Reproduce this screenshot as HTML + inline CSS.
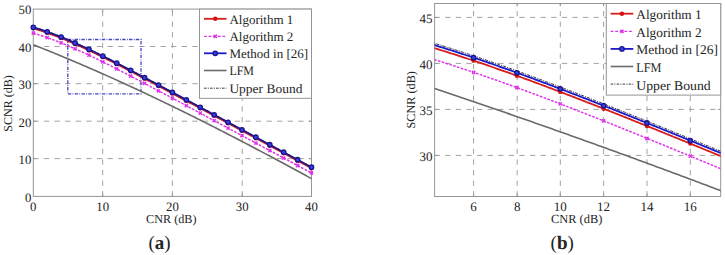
<!DOCTYPE html>
<html><head><meta charset="utf-8"><style>
html,body{margin:0;padding:0;background:#fff;}
body{width:725px;height:255px;overflow:hidden;}
svg{display:block;font-family:"Liberation Serif", serif;text-rendering:geometricPrecision;}
text{fill:#242424;}
</style></head><body>
<svg width="725" height="255" viewBox="0 0 725 255">
<rect width="725" height="255" fill="#fff"/>
<clipPath id="cl"><rect x="33.3" y="9.1" width="278.2" height="187.3"/></clipPath>
<line x1="102.70" y1="196.40" x2="102.70" y2="9.10" stroke="#a2a2a2" stroke-width="1" stroke-dasharray="5.3 5.3" />
<line x1="172.40" y1="196.40" x2="172.40" y2="9.10" stroke="#a2a2a2" stroke-width="1" stroke-dasharray="5.3 5.3" />
<line x1="242.20" y1="196.40" x2="242.20" y2="9.10" stroke="#a2a2a2" stroke-width="1" stroke-dasharray="5.3 5.3" />
<line x1="33.30" y1="46.50" x2="311.50" y2="46.50" stroke="#a2a2a2" stroke-width="1" stroke-dasharray="5.3 5.3" />
<line x1="33.30" y1="83.70" x2="311.50" y2="83.70" stroke="#a2a2a2" stroke-width="1" stroke-dasharray="5.3 5.3" />
<line x1="33.30" y1="121.20" x2="311.50" y2="121.20" stroke="#a2a2a2" stroke-width="1" stroke-dasharray="5.3 5.3" />
<line x1="33.30" y1="158.60" x2="311.50" y2="158.60" stroke="#a2a2a2" stroke-width="1" stroke-dasharray="5.3 5.3" />
<line x1="102.70" y1="196.40" x2="102.70" y2="193.60" stroke="#959595" stroke-width="1" />
<line x1="102.70" y1="9.10" x2="102.70" y2="11.90" stroke="#959595" stroke-width="1" />
<line x1="172.40" y1="196.40" x2="172.40" y2="193.60" stroke="#959595" stroke-width="1" />
<line x1="172.40" y1="9.10" x2="172.40" y2="11.90" stroke="#959595" stroke-width="1" />
<line x1="242.20" y1="196.40" x2="242.20" y2="193.60" stroke="#959595" stroke-width="1" />
<line x1="242.20" y1="9.10" x2="242.20" y2="11.90" stroke="#959595" stroke-width="1" />
<line x1="33.30" y1="46.50" x2="36.10" y2="46.50" stroke="#959595" stroke-width="1" />
<line x1="311.50" y1="46.50" x2="308.70" y2="46.50" stroke="#959595" stroke-width="1" />
<line x1="33.30" y1="83.70" x2="36.10" y2="83.70" stroke="#959595" stroke-width="1" />
<line x1="311.50" y1="83.70" x2="308.70" y2="83.70" stroke="#959595" stroke-width="1" />
<line x1="33.30" y1="121.20" x2="36.10" y2="121.20" stroke="#959595" stroke-width="1" />
<line x1="311.50" y1="121.20" x2="308.70" y2="121.20" stroke="#959595" stroke-width="1" />
<line x1="33.30" y1="158.60" x2="36.10" y2="158.60" stroke="#959595" stroke-width="1" />
<line x1="311.50" y1="158.60" x2="308.70" y2="158.60" stroke="#959595" stroke-width="1" />
<rect x="67.8" y="39.5" width="73.2" height="54.3" fill="none" stroke="#4646c0" stroke-width="1.3" stroke-dasharray="3.4 1.4 0.8 1.2"/>
<rect x="33.3" y="9.1" width="278.2" height="187.3" fill="none" stroke="#959595" stroke-width="1"/>
<polyline points="33.30,44.76 34.69,45.31 36.08,45.86 37.47,46.41 38.86,46.96 40.25,47.51 41.65,48.07 43.04,48.62 44.43,49.18 45.82,49.74 47.21,50.30 48.60,50.86 49.99,51.43 51.38,51.99 52.77,52.56 54.16,53.13 55.56,53.70 56.95,54.27 58.34,54.84 59.73,55.41 61.12,55.99 62.51,56.57 63.90,57.14 65.29,57.72 66.68,58.31 68.07,58.89 69.47,59.47 70.86,60.06 72.25,60.64 73.64,61.23 75.03,61.82 76.42,62.41 77.81,63.01 79.20,63.60 80.59,64.19 81.98,64.79 83.38,65.39 84.77,65.99 86.16,66.59 87.55,67.19 88.94,67.79 90.33,68.40 91.72,69.01 93.11,69.61 94.50,70.22 95.89,70.83 97.29,71.44 98.68,72.06 100.07,72.67 101.46,73.29 102.85,73.90 104.24,74.52 105.63,75.14 107.02,75.76 108.41,76.38 109.80,77.01 111.20,77.63 112.59,78.26 113.98,78.88 115.37,79.51 116.76,80.14 118.15,80.77 119.54,81.41 120.93,82.04 122.32,82.67 123.71,83.31 125.11,83.95 126.50,84.58 127.89,85.22 129.28,85.87 130.67,86.51 132.06,87.15 133.45,87.80 134.84,88.44 136.23,89.09 137.62,89.74 139.02,90.39 140.41,91.04 141.80,91.69 143.19,92.34 144.58,92.99 145.97,93.65 147.36,94.31 148.75,94.96 150.14,95.62 151.53,96.28 152.93,96.94 154.32,97.61 155.71,98.27 157.10,98.93 158.49,99.60 159.88,100.27 161.27,100.93 162.66,101.60 164.05,102.27 165.44,102.94 166.84,103.62 168.23,104.29 169.62,104.96 171.01,105.64 172.40,106.31 173.79,106.99 175.18,107.67 176.57,108.35 177.96,109.03 179.36,109.71 180.75,110.40 182.14,111.08 183.53,111.77 184.92,112.45 186.31,113.14 187.70,113.83 189.09,114.52 190.48,115.21 191.87,115.90 193.26,116.59 194.66,117.28 196.05,117.98 197.44,118.67 198.83,119.37 200.22,120.06 201.61,120.76 203.00,121.46 204.39,122.16 205.78,122.86 207.18,123.56 208.57,124.27 209.96,124.97 211.35,125.68 212.74,126.38 214.13,127.09 215.52,127.80 216.91,128.50 218.30,129.21 219.69,129.92 221.08,130.64 222.48,131.35 223.87,132.06 225.26,132.78 226.65,133.49 228.04,134.21 229.43,134.92 230.82,135.64 232.21,136.36 233.60,137.08 235.00,137.80 236.39,138.52 237.78,139.24 239.17,139.96 240.56,140.69 241.95,141.41 243.34,142.14 244.73,142.86 246.12,143.59 247.51,144.32 248.90,145.05 250.30,145.78 251.69,146.51 253.08,147.24 254.47,147.97 255.86,148.70 257.25,149.44 258.64,150.17 260.03,150.91 261.42,151.64 262.81,152.38 264.21,153.12 265.60,153.85 266.99,154.59 268.38,155.33 269.77,156.07 271.16,156.81 272.55,157.56 273.94,158.30 275.33,159.04 276.73,159.79 278.12,160.53 279.51,161.28 280.90,162.02 282.29,162.77 283.68,163.52 285.07,164.26 286.46,165.01 287.85,165.76 289.24,166.51 290.63,167.27 292.03,168.02 293.42,168.77 294.81,169.52 296.20,170.28 297.59,171.03 298.98,171.79 300.37,172.54 301.76,173.30 303.15,174.05 304.55,174.81 305.94,175.57 307.33,176.33 308.72,177.09 310.11,177.85 311.50,178.61" fill="none" stroke="#6a6a6a" stroke-width="1.6" stroke-linejoin="round" clip-path="url(#cl)"/>
<polyline points="33.30,33.16 34.69,33.57 36.08,33.98 37.47,34.41 38.86,34.84 40.25,35.29 41.65,35.74 43.04,36.20 44.43,36.67 45.82,37.14 47.21,37.63 48.60,38.12 49.99,38.62 51.38,39.12 52.77,39.64 54.16,40.16 55.56,40.69 56.95,41.22 58.34,41.77 59.73,42.32 61.12,42.87 62.51,43.44 63.90,44.01 65.29,44.58 66.68,45.16 68.07,45.75 69.47,46.34 70.86,46.94 72.25,47.55 73.64,48.16 75.03,48.77 76.42,49.39 77.81,50.02 79.20,50.65 80.59,51.28 81.98,51.92 83.38,52.56 84.77,53.21 86.16,53.86 87.55,54.51 88.94,55.17 90.33,55.83 91.72,56.50 93.11,57.17 94.50,57.84 95.89,58.52 97.29,59.19 98.68,59.87 100.07,60.56 101.46,61.25 102.85,61.93 104.24,62.63 105.63,63.32 107.02,64.02 108.41,64.72 109.80,65.42 111.20,66.12 112.59,66.82 113.98,67.53 115.37,68.24 116.76,68.95 118.15,69.66 119.54,70.37 120.93,71.09 122.32,71.81 123.71,72.52 125.11,73.24 126.50,73.96 127.89,74.69 129.28,75.41 130.67,76.13 132.06,76.86 133.45,77.58 134.84,78.31 136.23,79.04 137.62,79.77 139.02,80.50 140.41,81.23 141.80,81.96 143.19,82.69 144.58,83.43 145.97,84.16 147.36,84.90 148.75,85.63 150.14,86.37 151.53,87.10 152.93,87.84 154.32,88.58 155.71,89.32 157.10,90.05 158.49,90.79 159.88,91.53 161.27,92.27 162.66,93.01 164.05,93.75 165.44,94.49 166.84,95.24 168.23,95.98 169.62,96.72 171.01,97.46 172.40,98.21 173.79,98.95 175.18,99.69 176.57,100.44 177.96,101.18 179.36,101.92 180.75,102.67 182.14,103.41 183.53,104.16 184.92,104.90 186.31,105.65 187.70,106.39 189.09,107.14 190.48,107.88 191.87,108.63 193.26,109.37 194.66,110.12 196.05,110.87 197.44,111.61 198.83,112.36 200.22,113.11 201.61,113.85 203.00,114.60 204.39,115.35 205.78,116.09 207.18,116.84 208.57,117.59 209.96,118.34 211.35,119.08 212.74,119.83 214.13,120.58 215.52,121.33 216.91,122.07 218.30,122.82 219.69,123.57 221.08,124.32 222.48,125.07 223.87,125.81 225.26,126.56 226.65,127.31 228.04,128.06 229.43,128.81 230.82,129.55 232.21,130.30 233.60,131.05 235.00,131.80 236.39,132.55 237.78,133.30 239.17,134.04 240.56,134.79 241.95,135.54 243.34,136.29 244.73,137.04 246.12,137.79 247.51,138.54 248.90,139.28 250.30,140.03 251.69,140.78 253.08,141.53 254.47,142.28 255.86,143.03 257.25,143.78 258.64,144.53 260.03,145.27 261.42,146.02 262.81,146.77 264.21,147.52 265.60,148.27 266.99,149.02 268.38,149.77 269.77,150.52 271.16,151.27 272.55,152.01 273.94,152.76 275.33,153.51 276.73,154.26 278.12,155.01 279.51,155.76 280.90,156.51 282.29,157.26 283.68,158.01 285.07,158.76 286.46,159.51 287.85,160.25 289.24,161.00 290.63,161.75 292.03,162.50 293.42,163.25 294.81,164.00 296.20,164.75 297.59,165.50 298.98,166.25 300.37,167.00 301.76,167.75 303.15,168.49 304.55,169.24 305.94,169.99 307.33,170.74 308.72,171.49 310.11,172.24 311.50,172.99" fill="none" stroke="#e030ec" stroke-width="1.45" stroke-linejoin="round" stroke-dasharray="2.6 1.4" clip-path="url(#cl)"/>
<path d="M31.70,31.56L34.90,34.76M31.70,34.76L34.90,31.56" stroke="#e030ec" stroke-width="1.5" fill="none"/>
<path d="M45.61,36.03L48.81,39.23M45.61,39.23L48.81,36.03" stroke="#e030ec" stroke-width="1.5" fill="none"/>
<path d="M59.52,41.27L62.72,44.47M59.52,44.47L62.72,41.27" stroke="#e030ec" stroke-width="1.5" fill="none"/>
<path d="M73.43,47.17L76.63,50.37M73.43,50.37L76.63,47.17" stroke="#e030ec" stroke-width="1.5" fill="none"/>
<path d="M87.34,53.57L90.54,56.77M87.34,56.77L90.54,53.57" stroke="#e030ec" stroke-width="1.5" fill="none"/>
<path d="M101.25,60.33L104.45,63.53M101.25,63.53L104.45,60.33" stroke="#e030ec" stroke-width="1.5" fill="none"/>
<path d="M115.16,67.35L118.36,70.55M115.16,70.55L118.36,67.35" stroke="#e030ec" stroke-width="1.5" fill="none"/>
<path d="M129.07,74.53L132.27,77.73M129.07,77.73L132.27,74.53" stroke="#e030ec" stroke-width="1.5" fill="none"/>
<path d="M142.98,81.83L146.18,85.03M142.98,85.03L146.18,81.83" stroke="#e030ec" stroke-width="1.5" fill="none"/>
<path d="M156.89,89.19L160.09,92.39M156.89,92.39L160.09,89.19" stroke="#e030ec" stroke-width="1.5" fill="none"/>
<path d="M170.80,96.61L174.00,99.81M170.80,99.81L174.00,96.61" stroke="#e030ec" stroke-width="1.5" fill="none"/>
<path d="M184.71,104.05L187.91,107.25M184.71,107.25L187.91,104.05" stroke="#e030ec" stroke-width="1.5" fill="none"/>
<path d="M198.62,111.51L201.82,114.71M198.62,114.71L201.82,111.51" stroke="#e030ec" stroke-width="1.5" fill="none"/>
<path d="M212.53,118.98L215.73,122.18M212.53,122.18L215.73,118.98" stroke="#e030ec" stroke-width="1.5" fill="none"/>
<path d="M226.44,126.46L229.64,129.66M226.44,129.66L229.64,126.46" stroke="#e030ec" stroke-width="1.5" fill="none"/>
<path d="M240.35,133.94L243.55,137.14M240.35,137.14L243.55,133.94" stroke="#e030ec" stroke-width="1.5" fill="none"/>
<path d="M254.26,141.43L257.46,144.63M254.26,144.63L257.46,141.43" stroke="#e030ec" stroke-width="1.5" fill="none"/>
<path d="M268.17,148.92L271.37,152.12M268.17,152.12L271.37,148.92" stroke="#e030ec" stroke-width="1.5" fill="none"/>
<path d="M282.08,156.41L285.28,159.61M282.08,159.61L285.28,156.41" stroke="#e030ec" stroke-width="1.5" fill="none"/>
<path d="M295.99,163.90L299.19,167.10M295.99,167.10L299.19,163.90" stroke="#e030ec" stroke-width="1.5" fill="none"/>
<path d="M309.90,171.39L313.10,174.59M309.90,174.59L313.10,171.39" stroke="#e030ec" stroke-width="1.5" fill="none"/>
<polyline points="33.30,28.36 34.69,28.77 36.08,29.19 37.47,29.61 38.86,30.05 40.25,30.49 41.65,30.94 43.04,31.40 44.43,31.87 45.82,32.35 47.21,32.83 48.60,33.32 49.99,33.82 51.38,34.33 52.77,34.84 54.16,35.36 55.56,35.89 56.95,36.43 58.34,36.97 59.73,37.52 61.12,38.08 62.51,38.64 63.90,39.21 65.29,39.79 66.68,40.37 68.07,40.96 69.47,41.55 70.86,42.15 72.25,42.75 73.64,43.36 75.03,43.98 76.42,44.60 77.81,45.22 79.20,45.85 80.59,46.48 81.98,47.12 83.38,47.77 84.77,48.41 86.16,49.06 87.55,49.72 88.94,50.38 90.33,51.04 91.72,51.70 93.11,52.37 94.50,53.05 95.89,53.72 97.29,54.40 98.68,55.08 100.07,55.76 101.46,56.45 102.85,57.14 104.24,57.83 105.63,58.53 107.02,59.22 108.41,59.92 109.80,60.62 111.20,61.32 112.59,62.03 113.98,62.74 115.37,63.44 116.76,64.15 118.15,64.87 119.54,65.58 120.93,66.29 122.32,67.01 123.71,67.73 125.11,68.45 126.50,69.17 127.89,69.89 129.28,70.61 130.67,71.34 132.06,72.06 133.45,72.79 134.84,73.52 136.23,74.24 137.62,74.97 139.02,75.70 140.41,76.44 141.80,77.17 143.19,77.90 144.58,78.63 145.97,79.37 147.36,80.10 148.75,80.84 150.14,81.57 151.53,82.31 152.93,83.05 154.32,83.78 155.71,84.52 157.10,85.26 158.49,86.00 159.88,86.74 161.27,87.48 162.66,88.22 164.05,88.96 165.44,89.70 166.84,90.44 168.23,91.18 169.62,91.93 171.01,92.67 172.40,93.41 173.79,94.15 175.18,94.90 176.57,95.64 177.96,96.38 179.36,97.13 180.75,97.87 182.14,98.62 183.53,99.36 184.92,100.11 186.31,100.85 187.70,101.60 189.09,102.34 190.48,103.09 191.87,103.83 193.26,104.58 194.66,105.33 196.05,106.07 197.44,106.82 198.83,107.56 200.22,108.31 201.61,109.06 203.00,109.81 204.39,110.55 205.78,111.30 207.18,112.05 208.57,112.79 209.96,113.54 211.35,114.29 212.74,115.04 214.13,115.78 215.52,116.53 216.91,117.28 218.30,118.03 219.69,118.77 221.08,119.52 222.48,120.27 223.87,121.02 225.26,121.77 226.65,122.51 228.04,123.26 229.43,124.01 230.82,124.76 232.21,125.51 233.60,126.26 235.00,127.00 236.39,127.75 237.78,128.50 239.17,129.25 240.56,130.00 241.95,130.75 243.34,131.50 244.73,132.24 246.12,132.99 247.51,133.74 248.90,134.49 250.30,135.24 251.69,135.99 253.08,136.74 254.47,137.48 255.86,138.23 257.25,138.98 258.64,139.73 260.03,140.48 261.42,141.23 262.81,141.98 264.21,142.73 265.60,143.48 266.99,144.22 268.38,144.97 269.77,145.72 271.16,146.47 272.55,147.22 273.94,147.97 275.33,148.72 276.73,149.47 278.12,150.22 279.51,150.97 280.90,151.71 282.29,152.46 283.68,153.21 285.07,153.96 286.46,154.71 287.85,155.46 289.24,156.21 290.63,156.96 292.03,157.71 293.42,158.46 294.81,159.20 296.20,159.95 297.59,160.70 298.98,161.45 300.37,162.20 301.76,162.95 303.15,163.70 304.55,164.45 305.94,165.20 307.33,165.95 308.72,166.70 310.11,167.44 311.50,168.19" fill="none" stroke="#d81c1c" stroke-width="1.8" stroke-linejoin="round" clip-path="url(#cl)"/>
<circle cx="33.30" cy="28.36" r="2.2" fill="#d81010"/>
<circle cx="47.21" cy="32.83" r="2.2" fill="#d81010"/>
<circle cx="61.12" cy="38.08" r="2.2" fill="#d81010"/>
<circle cx="75.03" cy="43.98" r="2.2" fill="#d81010"/>
<circle cx="88.94" cy="50.38" r="2.2" fill="#d81010"/>
<circle cx="102.85" cy="57.14" r="2.2" fill="#d81010"/>
<circle cx="116.76" cy="64.15" r="2.2" fill="#d81010"/>
<circle cx="130.67" cy="71.34" r="2.2" fill="#d81010"/>
<circle cx="144.58" cy="78.63" r="2.2" fill="#d81010"/>
<circle cx="158.49" cy="86.00" r="2.2" fill="#d81010"/>
<circle cx="172.40" cy="93.41" r="2.2" fill="#d81010"/>
<circle cx="186.31" cy="100.85" r="2.2" fill="#d81010"/>
<circle cx="200.22" cy="108.31" r="2.2" fill="#d81010"/>
<circle cx="214.13" cy="115.78" r="2.2" fill="#d81010"/>
<circle cx="228.04" cy="123.26" r="2.2" fill="#d81010"/>
<circle cx="241.95" cy="130.75" r="2.2" fill="#d81010"/>
<circle cx="255.86" cy="138.23" r="2.2" fill="#d81010"/>
<circle cx="269.77" cy="145.72" r="2.2" fill="#d81010"/>
<circle cx="283.68" cy="153.21" r="2.2" fill="#d81010"/>
<circle cx="297.59" cy="160.70" r="2.2" fill="#d81010"/>
<circle cx="311.50" cy="168.19" r="2.2" fill="#d81010"/>
<polyline points="33.30,27.35 34.69,27.76 36.08,28.18 37.47,28.60 38.86,29.04 40.25,29.48 41.65,29.93 43.04,30.39 44.43,30.86 45.82,31.34 47.21,31.82 48.60,32.31 49.99,32.81 51.38,33.32 52.77,33.83 54.16,34.35 55.56,34.88 56.95,35.42 58.34,35.96 59.73,36.51 61.12,37.07 62.51,37.63 63.90,38.20 65.29,38.77 66.68,39.36 68.07,39.94 69.47,40.54 70.86,41.14 72.25,41.74 73.64,42.35 75.03,42.97 76.42,43.59 77.81,44.21 79.20,44.84 80.59,45.47 81.98,46.11 83.38,46.75 84.77,47.40 86.16,48.05 87.55,48.71 88.94,49.37 90.33,50.03 91.72,50.69 93.11,51.36 94.50,52.03 95.89,52.71 97.29,53.39 98.68,54.07 100.07,54.75 101.46,55.44 102.85,56.13 104.24,56.82 105.63,57.51 107.02,58.21 108.41,58.91 109.80,59.61 111.20,60.31 112.59,61.02 113.98,61.72 115.37,62.43 116.76,63.14 118.15,63.86 119.54,64.57 120.93,65.28 122.32,66.00 123.71,66.72 125.11,67.44 126.50,68.16 127.89,68.88 129.28,69.60 130.67,70.33 132.06,71.05 133.45,71.78 134.84,72.51 136.23,73.23 137.62,73.96 139.02,74.69 140.41,75.42 141.80,76.16 143.19,76.89 144.58,77.62 145.97,78.35 147.36,79.09 148.75,79.82 150.14,80.56 151.53,81.30 152.93,82.03 154.32,82.77 155.71,83.51 157.10,84.25 158.49,84.99 159.88,85.73 161.27,86.47 162.66,87.21 164.05,87.95 165.44,88.69 166.84,89.43 168.23,90.17 169.62,90.91 171.01,91.66 172.40,92.40 173.79,93.14 175.18,93.89 176.57,94.63 177.96,95.37 179.36,96.12 180.75,96.86 182.14,97.61 183.53,98.35 184.92,99.10 186.31,99.84 187.70,100.59 189.09,101.33 190.48,102.08 191.87,102.82 193.26,103.57 194.66,104.31 196.05,105.06 197.44,105.81 198.83,106.55 200.22,107.30 201.61,108.05 203.00,108.79 204.39,109.54 205.78,110.29 207.18,111.03 208.57,111.78 209.96,112.53 211.35,113.28 212.74,114.02 214.13,114.77 215.52,115.52 216.91,116.27 218.30,117.02 219.69,117.76 221.08,118.51 222.48,119.26 223.87,120.01 225.26,120.75 226.65,121.50 228.04,122.25 229.43,123.00 230.82,123.75 232.21,124.50 233.60,125.24 235.00,125.99 236.39,126.74 237.78,127.49 239.17,128.24 240.56,128.99 241.95,129.74 243.34,130.48 244.73,131.23 246.12,131.98 247.51,132.73 248.90,133.48 250.30,134.23 251.69,134.98 253.08,135.72 254.47,136.47 255.86,137.22 257.25,137.97 258.64,138.72 260.03,139.47 261.42,140.22 262.81,140.97 264.21,141.72 265.60,142.46 266.99,143.21 268.38,143.96 269.77,144.71 271.16,145.46 272.55,146.21 273.94,146.96 275.33,147.71 276.73,148.46 278.12,149.20 279.51,149.95 280.90,150.70 282.29,151.45 283.68,152.20 285.07,152.95 286.46,153.70 287.85,154.45 289.24,155.20 290.63,155.95 292.03,156.70 293.42,157.44 294.81,158.19 296.20,158.94 297.59,159.69 298.98,160.44 300.37,161.19 301.76,161.94 303.15,162.69 304.55,163.44 305.94,164.19 307.33,164.94 308.72,165.68 310.11,166.43 311.50,167.18" fill="none" stroke="#1a1ac8" stroke-width="1.8" stroke-linejoin="round" clip-path="url(#cl)"/>
<polyline points="33.30,27.16 34.69,27.57 36.08,27.99 37.47,28.42 38.86,28.85 40.25,29.29 41.65,29.74 43.04,30.20 44.43,30.67 45.82,31.15 47.21,31.63 48.60,32.12 49.99,32.62 51.38,33.13 52.77,33.64 54.16,34.17 55.56,34.69 56.95,35.23 58.34,35.77 59.73,36.32 61.12,36.88 62.51,37.44 63.90,38.01 65.29,38.59 66.68,39.17 68.07,39.76 69.47,40.35 70.86,40.95 72.25,41.55 73.64,42.16 75.03,42.78 76.42,43.40 77.81,44.02 79.20,44.65 80.59,45.29 81.98,45.92 83.38,46.57 84.77,47.21 86.16,47.86 87.55,48.52 88.94,49.18 90.33,49.84 91.72,50.51 93.11,51.17 94.50,51.85 95.89,52.52 97.29,53.20 98.68,53.88 100.07,54.57 101.46,55.25 102.85,55.94 104.24,56.63 105.63,57.33 107.02,58.02 108.41,58.72 109.80,59.42 111.20,60.13 112.59,60.83 113.98,61.54 115.37,62.25 116.76,62.96 118.15,63.67 119.54,64.38 120.93,65.10 122.32,65.81 123.71,66.53 125.11,67.25 126.50,67.97 127.89,68.69 129.28,69.42 130.67,70.14 132.06,70.86 133.45,71.59 134.84,72.32 136.23,73.05 137.62,73.78 139.02,74.51 140.41,75.24 141.80,75.97 143.19,76.70 144.58,77.43 145.97,78.17 147.36,78.90 148.75,79.64 150.14,80.37 151.53,81.11 152.93,81.85 154.32,82.58 155.71,83.32 157.10,84.06 158.49,84.80 159.88,85.54 161.27,86.28 162.66,87.02 164.05,87.76 165.44,88.50 166.84,89.24 168.23,89.98 169.62,90.73 171.01,91.47 172.40,92.21 173.79,92.95 175.18,93.70 176.57,94.44 177.96,95.19 179.36,95.93 180.75,96.67 182.14,97.42 183.53,98.16 184.92,98.91 186.31,99.65 187.70,100.40 189.09,101.14 190.48,101.89 191.87,102.64 193.26,103.38 194.66,104.13 196.05,104.87 197.44,105.62 198.83,106.37 200.22,107.11 201.61,107.86 203.00,108.61 204.39,109.35 205.78,110.10 207.18,110.85 208.57,111.59 209.96,112.34 211.35,113.09 212.74,113.84 214.13,114.58 215.52,115.33 216.91,116.08 218.30,116.83 219.69,117.58 221.08,118.32 222.48,119.07 223.87,119.82 225.26,120.57 226.65,121.32 228.04,122.06 229.43,122.81 230.82,123.56 232.21,124.31 233.60,125.06 235.00,125.81 236.39,126.55 237.78,127.30 239.17,128.05 240.56,128.80 241.95,129.55 243.34,130.30 244.73,131.04 246.12,131.79 247.51,132.54 248.90,133.29 250.30,134.04 251.69,134.79 253.08,135.54 254.47,136.29 255.86,137.03 257.25,137.78 258.64,138.53 260.03,139.28 261.42,140.03 262.81,140.78 264.21,141.53 265.60,142.28 266.99,143.03 268.38,143.77 269.77,144.52 271.16,145.27 272.55,146.02 273.94,146.77 275.33,147.52 276.73,148.27 278.12,149.02 279.51,149.77 280.90,150.52 282.29,151.26 283.68,152.01 285.07,152.76 286.46,153.51 287.85,154.26 289.24,155.01 290.63,155.76 292.03,156.51 293.42,157.26 294.81,158.01 296.20,158.75 297.59,159.50 298.98,160.25 300.37,161.00 301.76,161.75 303.15,162.50 304.55,163.25 305.94,164.00 307.33,164.75 308.72,165.50 310.11,166.25 311.50,167.00" fill="none" stroke="#2a1838" stroke-width="1.1" stroke-linejoin="round" stroke-dasharray="3 1 1.2 1" clip-path="url(#cl)"/>
<circle cx="33.30" cy="27.35" r="2.2" fill="#3c3ce0" stroke="#16168e" stroke-width="1.3"/>
<circle cx="47.21" cy="31.82" r="2.2" fill="#3c3ce0" stroke="#16168e" stroke-width="1.3"/>
<circle cx="61.12" cy="37.07" r="2.2" fill="#3c3ce0" stroke="#16168e" stroke-width="1.3"/>
<circle cx="75.03" cy="42.97" r="2.2" fill="#3c3ce0" stroke="#16168e" stroke-width="1.3"/>
<circle cx="88.94" cy="49.37" r="2.2" fill="#3c3ce0" stroke="#16168e" stroke-width="1.3"/>
<circle cx="102.85" cy="56.13" r="2.2" fill="#3c3ce0" stroke="#16168e" stroke-width="1.3"/>
<circle cx="116.76" cy="63.14" r="2.2" fill="#3c3ce0" stroke="#16168e" stroke-width="1.3"/>
<circle cx="130.67" cy="70.33" r="2.2" fill="#3c3ce0" stroke="#16168e" stroke-width="1.3"/>
<circle cx="144.58" cy="77.62" r="2.2" fill="#3c3ce0" stroke="#16168e" stroke-width="1.3"/>
<circle cx="158.49" cy="84.99" r="2.2" fill="#3c3ce0" stroke="#16168e" stroke-width="1.3"/>
<circle cx="172.40" cy="92.40" r="2.2" fill="#3c3ce0" stroke="#16168e" stroke-width="1.3"/>
<circle cx="186.31" cy="99.84" r="2.2" fill="#3c3ce0" stroke="#16168e" stroke-width="1.3"/>
<circle cx="200.22" cy="107.30" r="2.2" fill="#3c3ce0" stroke="#16168e" stroke-width="1.3"/>
<circle cx="214.13" cy="114.77" r="2.2" fill="#3c3ce0" stroke="#16168e" stroke-width="1.3"/>
<circle cx="228.04" cy="122.25" r="2.2" fill="#3c3ce0" stroke="#16168e" stroke-width="1.3"/>
<circle cx="241.95" cy="129.74" r="2.2" fill="#3c3ce0" stroke="#16168e" stroke-width="1.3"/>
<circle cx="255.86" cy="137.22" r="2.2" fill="#3c3ce0" stroke="#16168e" stroke-width="1.3"/>
<circle cx="269.77" cy="144.71" r="2.2" fill="#3c3ce0" stroke="#16168e" stroke-width="1.3"/>
<circle cx="283.68" cy="152.20" r="2.2" fill="#3c3ce0" stroke="#16168e" stroke-width="1.3"/>
<circle cx="297.59" cy="159.69" r="2.2" fill="#3c3ce0" stroke="#16168e" stroke-width="1.3"/>
<circle cx="311.50" cy="167.18" r="2.2" fill="#3c3ce0" stroke="#16168e" stroke-width="1.3"/>
<clipPath id="cr"><rect x="434.6" y="3.5" width="286.1" height="193.0"/></clipPath>
<line x1="473.60" y1="196.50" x2="473.60" y2="3.50" stroke="#a2a2a2" stroke-width="1" stroke-dasharray="5.3 5.3" />
<line x1="517.20" y1="196.50" x2="517.20" y2="3.50" stroke="#a2a2a2" stroke-width="1" stroke-dasharray="5.3 5.3" />
<line x1="560.30" y1="196.50" x2="560.30" y2="3.50" stroke="#a2a2a2" stroke-width="1" stroke-dasharray="5.3 5.3" />
<line x1="603.60" y1="196.50" x2="603.60" y2="3.50" stroke="#a2a2a2" stroke-width="1" stroke-dasharray="5.3 5.3" />
<line x1="647.00" y1="196.50" x2="647.00" y2="3.50" stroke="#a2a2a2" stroke-width="1" stroke-dasharray="5.3 5.3" />
<line x1="690.30" y1="196.50" x2="690.30" y2="3.50" stroke="#a2a2a2" stroke-width="1" stroke-dasharray="5.3 5.3" />
<line x1="434.60" y1="17.40" x2="720.70" y2="17.40" stroke="#a2a2a2" stroke-width="1" stroke-dasharray="5.3 5.3" />
<line x1="434.60" y1="63.40" x2="720.70" y2="63.40" stroke="#a2a2a2" stroke-width="1" stroke-dasharray="5.3 5.3" />
<line x1="434.60" y1="109.40" x2="720.70" y2="109.40" stroke="#a2a2a2" stroke-width="1" stroke-dasharray="5.3 5.3" />
<line x1="434.60" y1="155.40" x2="720.70" y2="155.40" stroke="#a2a2a2" stroke-width="1" stroke-dasharray="5.3 5.3" />
<line x1="473.60" y1="196.50" x2="473.60" y2="193.70" stroke="#959595" stroke-width="1" />
<line x1="473.60" y1="3.50" x2="473.60" y2="6.30" stroke="#959595" stroke-width="1" />
<line x1="517.20" y1="196.50" x2="517.20" y2="193.70" stroke="#959595" stroke-width="1" />
<line x1="517.20" y1="3.50" x2="517.20" y2="6.30" stroke="#959595" stroke-width="1" />
<line x1="560.30" y1="196.50" x2="560.30" y2="193.70" stroke="#959595" stroke-width="1" />
<line x1="560.30" y1="3.50" x2="560.30" y2="6.30" stroke="#959595" stroke-width="1" />
<line x1="603.60" y1="196.50" x2="603.60" y2="193.70" stroke="#959595" stroke-width="1" />
<line x1="603.60" y1="3.50" x2="603.60" y2="6.30" stroke="#959595" stroke-width="1" />
<line x1="647.00" y1="196.50" x2="647.00" y2="193.70" stroke="#959595" stroke-width="1" />
<line x1="647.00" y1="3.50" x2="647.00" y2="6.30" stroke="#959595" stroke-width="1" />
<line x1="690.30" y1="196.50" x2="690.30" y2="193.70" stroke="#959595" stroke-width="1" />
<line x1="690.30" y1="3.50" x2="690.30" y2="6.30" stroke="#959595" stroke-width="1" />
<line x1="434.60" y1="17.40" x2="437.40" y2="17.40" stroke="#959595" stroke-width="1" />
<line x1="720.70" y1="17.40" x2="717.90" y2="17.40" stroke="#959595" stroke-width="1" />
<line x1="434.60" y1="63.40" x2="437.40" y2="63.40" stroke="#959595" stroke-width="1" />
<line x1="720.70" y1="63.40" x2="717.90" y2="63.40" stroke="#959595" stroke-width="1" />
<line x1="434.60" y1="109.40" x2="437.40" y2="109.40" stroke="#959595" stroke-width="1" />
<line x1="720.70" y1="109.40" x2="717.90" y2="109.40" stroke="#959595" stroke-width="1" />
<line x1="434.60" y1="155.40" x2="437.40" y2="155.40" stroke="#959595" stroke-width="1" />
<line x1="720.70" y1="155.40" x2="717.90" y2="155.40" stroke="#959595" stroke-width="1" />
<rect x="434.6" y="3.5" width="286.1" height="193.0" fill="none" stroke="#959595" stroke-width="1"/>
<polyline points="430.26,86.97 431.73,87.46 433.21,87.96 434.68,88.45 436.15,88.95 437.63,89.44 439.10,89.94 440.57,90.44 442.05,90.93 443.52,91.43 445.00,91.93 446.47,92.43 447.94,92.92 449.42,93.42 450.89,93.92 452.36,94.42 453.84,94.92 455.31,95.42 456.78,95.92 458.26,96.42 459.73,96.92 461.20,97.42 462.68,97.92 464.15,98.42 465.63,98.93 467.10,99.43 468.57,99.93 470.05,100.43 471.52,100.94 472.99,101.44 474.47,101.94 475.94,102.45 477.41,102.95 478.89,103.46 480.36,103.96 481.83,104.47 483.31,104.97 484.78,105.48 486.26,105.99 487.73,106.49 489.20,107.00 490.68,107.51 492.15,108.02 493.62,108.52 495.10,109.03 496.57,109.54 498.04,110.05 499.52,110.56 500.99,111.07 502.46,111.58 503.94,112.09 505.41,112.60 506.89,113.11 508.36,113.62 509.83,114.13 511.31,114.65 512.78,115.16 514.25,115.67 515.73,116.18 517.20,116.70 518.67,117.21 520.15,117.72 521.62,118.24 523.09,118.75 524.57,119.27 526.04,119.78 527.51,120.30 528.99,120.81 530.46,121.33 531.94,121.85 533.41,122.36 534.88,122.88 536.36,123.40 537.83,123.92 539.30,124.43 540.78,124.95 542.25,125.47 543.72,125.99 545.20,126.51 546.67,127.03 548.14,127.55 549.62,128.07 551.09,128.59 552.57,129.11 554.04,129.63 555.51,130.15 556.99,130.68 558.46,131.20 559.93,131.72 561.41,132.24 562.88,132.77 564.35,133.29 565.83,133.81 567.30,134.34 568.77,134.86 570.25,135.39 571.72,135.91 573.20,136.44 574.67,136.96 576.14,137.49 577.62,138.02 579.09,138.54 580.56,139.07 582.04,139.60 583.51,140.13 584.98,140.65 586.46,141.18 587.93,141.71 589.40,142.24 590.88,142.77 592.35,143.30 593.83,143.83 595.30,144.36 596.77,144.89 598.25,145.42 599.72,145.95 601.19,146.48 602.67,147.02 604.14,147.55 605.61,148.08 607.09,148.61 608.56,149.15 610.03,149.68 611.51,150.21 612.98,150.75 614.46,151.28 615.93,151.82 617.40,152.35 618.88,152.89 620.35,153.42 621.82,153.96 623.30,154.50 624.77,155.03 626.24,155.57 627.72,156.11 629.19,156.64 630.66,157.18 632.14,157.72 633.61,158.26 635.08,158.80 636.56,159.34 638.03,159.88 639.51,160.42 640.98,160.96 642.45,161.50 643.93,162.04 645.40,162.58 646.87,163.12 648.35,163.66 649.82,164.21 651.29,164.75 652.77,165.29 654.24,165.83 655.71,166.38 657.19,166.92 658.66,167.47 660.14,168.01 661.61,168.55 663.08,169.10 664.56,169.64 666.03,170.19 667.50,170.74 668.98,171.28 670.45,171.83 671.92,172.38 673.40,172.92 674.87,173.47 676.34,174.02 677.82,174.57 679.29,175.12 680.77,175.67 682.24,176.21 683.71,176.76 685.19,177.31 686.66,177.86 688.13,178.41 689.61,178.97 691.08,179.52 692.55,180.07 694.03,180.62 695.50,181.17 696.97,181.72 698.45,182.28 699.92,182.83 701.40,183.38 702.87,183.94 704.34,184.49 705.82,185.05 707.29,185.60 708.76,186.16 710.24,186.71 711.71,187.27 713.18,187.82 714.66,188.38 716.13,188.94 717.60,189.49 719.08,190.05 720.55,190.61 722.02,191.17 723.50,191.72 724.97,192.28" fill="none" stroke="#6a6a6a" stroke-width="1.6" stroke-linejoin="round" clip-path="url(#cr)"/>
<polyline points="430.26,58.44 431.73,58.89 433.21,59.34 434.68,59.79 436.15,60.24 437.63,60.70 439.10,61.15 440.57,61.61 442.05,62.07 443.52,62.53 445.00,63.00 446.47,63.46 447.94,63.93 449.42,64.40 450.89,64.87 452.36,65.35 453.84,65.82 455.31,66.30 456.78,66.78 458.26,67.26 459.73,67.74 461.20,68.22 462.68,68.71 464.15,69.19 465.63,69.68 467.10,70.17 468.57,70.66 470.05,71.16 471.52,71.65 472.99,72.15 474.47,72.65 475.94,73.15 477.41,73.65 478.89,74.15 480.36,74.66 481.83,75.16 483.31,75.67 484.78,76.18 486.26,76.69 487.73,77.20 489.20,77.71 490.68,78.23 492.15,78.74 493.62,79.26 495.10,79.78 496.57,80.30 498.04,80.82 499.52,81.34 500.99,81.87 502.46,82.39 503.94,82.92 505.41,83.45 506.89,83.98 508.36,84.51 509.83,85.04 511.31,85.57 512.78,86.11 514.25,86.64 515.73,87.18 517.20,87.72 518.67,88.26 520.15,88.80 521.62,89.34 523.09,89.88 524.57,90.42 526.04,90.97 527.51,91.51 528.99,92.06 530.46,92.61 531.94,93.16 533.41,93.71 534.88,94.26 536.36,94.81 537.83,95.36 539.30,95.92 540.78,96.47 542.25,97.03 543.72,97.58 545.20,98.14 546.67,98.70 548.14,99.26 549.62,99.82 551.09,100.38 552.57,100.94 554.04,101.50 555.51,102.07 556.99,102.63 558.46,103.20 559.93,103.76 561.41,104.33 562.88,104.90 564.35,105.47 565.83,106.04 567.30,106.61 568.77,107.18 570.25,107.75 571.72,108.32 573.20,108.90 574.67,109.47 576.14,110.04 577.62,110.62 579.09,111.20 580.56,111.77 582.04,112.35 583.51,112.93 584.98,113.51 586.46,114.09 587.93,114.67 589.40,115.25 590.88,115.83 592.35,116.41 593.83,116.99 595.30,117.58 596.77,118.16 598.25,118.74 599.72,119.33 601.19,119.91 602.67,120.50 604.14,121.09 605.61,121.67 607.09,122.26 608.56,122.85 610.03,123.44 611.51,124.03 612.98,124.62 614.46,125.21 615.93,125.80 617.40,126.39 618.88,126.98 620.35,127.57 621.82,128.16 623.30,128.76 624.77,129.35 626.24,129.95 627.72,130.54 629.19,131.13 630.66,131.73 632.14,132.33 633.61,132.92 635.08,133.52 636.56,134.11 638.03,134.71 639.51,135.31 640.98,135.91 642.45,136.51 643.93,137.10 645.40,137.70 646.87,138.30 648.35,138.90 649.82,139.50 651.29,140.10 652.77,140.71 654.24,141.31 655.71,141.91 657.19,142.51 658.66,143.11 660.14,143.72 661.61,144.32 663.08,144.92 664.56,145.53 666.03,146.13 667.50,146.73 668.98,147.34 670.45,147.94 671.92,148.55 673.40,149.15 674.87,149.76 676.34,150.36 677.82,150.97 679.29,151.58 680.77,152.18 682.24,152.79 683.71,153.40 685.19,154.01 686.66,154.61 688.13,155.22 689.61,155.83 691.08,156.44 692.55,157.05 694.03,157.65 695.50,158.26 696.97,158.87 698.45,159.48 699.92,160.09 701.40,160.70 702.87,161.31 704.34,161.92 705.82,162.53 707.29,163.14 708.76,163.76 710.24,164.37 711.71,164.98 713.18,165.59 714.66,166.20 716.13,166.81 717.60,167.43 719.08,168.04 720.55,168.65 722.02,169.26 723.50,169.88 724.97,170.49" fill="none" stroke="#e030ec" stroke-width="1.5" stroke-linejoin="round" stroke-dasharray="2.6 1.4" clip-path="url(#cr)"/>
<path d="M472.00,70.75L475.20,73.95M472.00,73.95L475.20,70.75" stroke="#e030ec" stroke-width="1.5" fill="none"/>
<path d="M515.34,86.02L518.54,89.22M515.34,89.22L518.54,86.02" stroke="#e030ec" stroke-width="1.5" fill="none"/>
<path d="M558.68,102.30L561.88,105.50M558.68,105.50L561.88,102.30" stroke="#e030ec" stroke-width="1.5" fill="none"/>
<path d="M602.02,119.28L605.22,122.48M602.02,122.48L605.22,119.28" stroke="#e030ec" stroke-width="1.5" fill="none"/>
<path d="M645.36,136.74L648.56,139.94M645.36,139.94L648.56,136.74" stroke="#e030ec" stroke-width="1.5" fill="none"/>
<path d="M688.70,154.52L691.90,157.72M688.70,157.72L691.90,154.52" stroke="#e030ec" stroke-width="1.5" fill="none"/>
<polyline points="430.26,46.93 431.73,47.37 433.21,47.81 434.68,48.26 436.15,48.70 437.63,49.15 439.10,49.60 440.57,50.05 442.05,50.51 443.52,50.97 445.00,51.42 446.47,51.88 447.94,52.35 449.42,52.81 450.89,53.28 452.36,53.74 453.84,54.21 455.31,54.68 456.78,55.16 458.26,55.63 459.73,56.11 461.20,56.58 462.68,57.06 464.15,57.54 465.63,58.03 467.10,58.51 468.57,59.00 470.05,59.49 471.52,59.98 472.99,60.47 474.47,60.96 475.94,61.45 477.41,61.95 478.89,62.45 480.36,62.95 481.83,63.45 483.31,63.95 484.78,64.45 486.26,64.96 487.73,65.46 489.20,65.97 490.68,66.48 492.15,66.99 493.62,67.50 495.10,68.01 496.57,68.53 498.04,69.04 499.52,69.56 500.99,70.08 502.46,70.60 503.94,71.12 505.41,71.64 506.89,72.17 508.36,72.69 509.83,73.22 511.31,73.75 512.78,74.27 514.25,74.80 515.73,75.34 517.20,75.87 518.67,76.40 520.15,76.93 521.62,77.47 523.09,78.01 524.57,78.54 526.04,79.08 527.51,79.62 528.99,80.16 530.46,80.71 531.94,81.25 533.41,81.79 534.88,82.34 536.36,82.89 537.83,83.43 539.30,83.98 540.78,84.53 542.25,85.08 543.72,85.63 545.20,86.18 546.67,86.74 548.14,87.29 549.62,87.84 551.09,88.40 552.57,88.96 554.04,89.51 555.51,90.07 556.99,90.63 558.46,91.19 559.93,91.75 561.41,92.31 562.88,92.87 564.35,93.44 565.83,94.00 567.30,94.57 568.77,95.13 570.25,95.70 571.72,96.26 573.20,96.83 574.67,97.40 576.14,97.97 577.62,98.54 579.09,99.11 580.56,99.68 582.04,100.25 583.51,100.82 584.98,101.40 586.46,101.97 587.93,102.55 589.40,103.12 590.88,103.70 592.35,104.27 593.83,104.85 595.30,105.43 596.77,106.00 598.25,106.58 599.72,107.16 601.19,107.74 602.67,108.32 604.14,108.90 605.61,109.48 607.09,110.07 608.56,110.65 610.03,111.23 611.51,111.82 612.98,112.40 614.46,112.98 615.93,113.57 617.40,114.15 618.88,114.74 620.35,115.33 621.82,115.91 623.30,116.50 624.77,117.09 626.24,117.68 627.72,118.27 629.19,118.86 630.66,119.45 632.14,120.04 633.61,120.63 635.08,121.22 636.56,121.81 638.03,122.40 639.51,122.99 640.98,123.58 642.45,124.18 643.93,124.77 645.40,125.36 646.87,125.96 648.35,126.55 649.82,127.15 651.29,127.74 652.77,128.34 654.24,128.93 655.71,129.53 657.19,130.13 658.66,130.72 660.14,131.32 661.61,131.92 663.08,132.51 664.56,133.11 666.03,133.71 667.50,134.31 668.98,134.91 670.45,135.51 671.92,136.11 673.40,136.71 674.87,137.31 676.34,137.91 677.82,138.51 679.29,139.11 680.77,139.71 682.24,140.31 683.71,140.91 685.19,141.51 686.66,142.11 688.13,142.72 689.61,143.32 691.08,143.92 692.55,144.53 694.03,145.13 695.50,145.73 696.97,146.34 698.45,146.94 699.92,147.54 701.40,148.15 702.87,148.75 704.34,149.36 705.82,149.96 707.29,150.57 708.76,151.17 710.24,151.78 711.71,152.38 713.18,152.99 714.66,153.60 716.13,154.20 717.60,154.81 719.08,155.42 720.55,156.02 722.02,156.63 723.50,157.24 724.97,157.84" fill="none" stroke="#d81c1c" stroke-width="1.8" stroke-linejoin="round" clip-path="url(#cr)"/>
<circle cx="473.60" cy="60.67" r="2.2" fill="#d81010"/>
<circle cx="516.94" cy="75.77" r="2.2" fill="#d81010"/>
<circle cx="560.28" cy="91.88" r="2.2" fill="#d81010"/>
<circle cx="603.62" cy="108.70" r="2.2" fill="#d81010"/>
<circle cx="646.96" cy="125.99" r="2.2" fill="#d81010"/>
<circle cx="690.30" cy="143.60" r="2.2" fill="#d81010"/>
<polyline points="430.26,43.89 431.73,44.33 433.21,44.77 434.68,45.22 436.15,45.67 437.63,46.11 439.10,46.57 440.57,47.02 442.05,47.47 443.52,47.93 445.00,48.39 446.47,48.85 447.94,49.31 449.42,49.77 450.89,50.24 452.36,50.71 453.84,51.18 455.31,51.65 456.78,52.12 458.26,52.59 459.73,53.07 461.20,53.55 462.68,54.03 464.15,54.51 465.63,54.99 467.10,55.48 468.57,55.96 470.05,56.45 471.52,56.94 472.99,57.43 474.47,57.92 475.94,58.42 477.41,58.91 478.89,59.41 480.36,59.91 481.83,60.41 483.31,60.91 484.78,61.42 486.26,61.92 487.73,62.43 489.20,62.93 490.68,63.44 492.15,63.95 493.62,64.46 495.10,64.98 496.57,65.49 498.04,66.01 499.52,66.53 500.99,67.04 502.46,67.56 503.94,68.09 505.41,68.61 506.89,69.13 508.36,69.66 509.83,70.18 511.31,70.71 512.78,71.24 514.25,71.77 515.73,72.30 517.20,72.83 518.67,73.36 520.15,73.90 521.62,74.43 523.09,74.97 524.57,75.51 526.04,76.05 527.51,76.59 528.99,77.13 530.46,77.67 531.94,78.21 533.41,78.76 534.88,79.30 536.36,79.85 537.83,80.40 539.30,80.94 540.78,81.49 542.25,82.04 543.72,82.59 545.20,83.15 546.67,83.70 548.14,84.25 549.62,84.81 551.09,85.36 552.57,85.92 554.04,86.48 555.51,87.04 556.99,87.59 558.46,88.15 559.93,88.71 561.41,89.28 562.88,89.84 564.35,90.40 565.83,90.97 567.30,91.53 568.77,92.09 570.25,92.66 571.72,93.23 573.20,93.80 574.67,94.36 576.14,94.93 577.62,95.50 579.09,96.07 580.56,96.64 582.04,97.22 583.51,97.79 584.98,98.36 586.46,98.93 587.93,99.51 589.40,100.08 590.88,100.66 592.35,101.24 593.83,101.81 595.30,102.39 596.77,102.97 598.25,103.55 599.72,104.13 601.19,104.71 602.67,105.29 604.14,105.87 605.61,106.45 607.09,107.03 608.56,107.61 610.03,108.20 611.51,108.78 612.98,109.36 614.46,109.95 615.93,110.53 617.40,111.12 618.88,111.70 620.35,112.29 621.82,112.88 623.30,113.47 624.77,114.05 626.24,114.64 627.72,115.23 629.19,115.82 630.66,116.41 632.14,117.00 633.61,117.59 635.08,118.18 636.56,118.77 638.03,119.36 639.51,119.96 640.98,120.55 642.45,121.14 643.93,121.73 645.40,122.33 646.87,122.92 648.35,123.52 649.82,124.11 651.29,124.71 652.77,125.30 654.24,125.90 655.71,126.49 657.19,127.09 658.66,127.69 660.14,128.28 661.61,128.88 663.08,129.48 664.56,130.08 666.03,130.67 667.50,131.27 668.98,131.87 670.45,132.47 671.92,133.07 673.40,133.67 674.87,134.27 676.34,134.87 677.82,135.47 679.29,136.07 680.77,136.67 682.24,137.27 683.71,137.87 685.19,138.48 686.66,139.08 688.13,139.68 689.61,140.28 691.08,140.89 692.55,141.49 694.03,142.09 695.50,142.70 696.97,143.30 698.45,143.90 699.92,144.51 701.40,145.11 702.87,145.72 704.34,146.32 705.82,146.93 707.29,147.53 708.76,148.14 710.24,148.74 711.71,149.35 713.18,149.95 714.66,150.56 716.13,151.17 717.60,151.77 719.08,152.38 720.55,152.99 722.02,153.59 723.50,154.20 724.97,154.81" fill="none" stroke="#1a1ac8" stroke-width="1.8" stroke-linejoin="round" clip-path="url(#cr)"/>
<polyline points="430.26,42.05 431.73,42.49 433.21,42.93 434.68,43.38 436.15,43.83 437.63,44.27 439.10,44.73 440.57,45.18 442.05,45.63 443.52,46.09 445.00,46.55 446.47,47.01 447.94,47.47 449.42,47.93 450.89,48.40 452.36,48.87 453.84,49.34 455.31,49.81 456.78,50.28 458.26,50.75 459.73,51.23 461.20,51.71 462.68,52.19 464.15,52.67 465.63,53.15 467.10,53.64 468.57,54.12 470.05,54.61 471.52,55.10 472.99,55.59 474.47,56.08 475.94,56.58 477.41,57.07 478.89,57.57 480.36,58.07 481.83,58.57 483.31,59.07 484.78,59.58 486.26,60.08 487.73,60.59 489.20,61.09 490.68,61.60 492.15,62.11 493.62,62.62 495.10,63.14 496.57,63.65 498.04,64.17 499.52,64.69 500.99,65.20 502.46,65.72 503.94,66.25 505.41,66.77 506.89,67.29 508.36,67.82 509.83,68.34 511.31,68.87 512.78,69.40 514.25,69.93 515.73,70.46 517.20,70.99 518.67,71.52 520.15,72.06 521.62,72.59 523.09,73.13 524.57,73.67 526.04,74.21 527.51,74.75 528.99,75.29 530.46,75.83 531.94,76.37 533.41,76.92 534.88,77.46 536.36,78.01 537.83,78.56 539.30,79.10 540.78,79.65 542.25,80.20 543.72,80.75 545.20,81.31 546.67,81.86 548.14,82.41 549.62,82.97 551.09,83.52 552.57,84.08 554.04,84.64 555.51,85.20 556.99,85.75 558.46,86.31 559.93,86.87 561.41,87.44 562.88,88.00 564.35,88.56 565.83,89.13 567.30,89.69 568.77,90.25 570.25,90.82 571.72,91.39 573.20,91.96 574.67,92.52 576.14,93.09 577.62,93.66 579.09,94.23 580.56,94.80 582.04,95.38 583.51,95.95 584.98,96.52 586.46,97.09 587.93,97.67 589.40,98.24 590.88,98.82 592.35,99.40 593.83,99.97 595.30,100.55 596.77,101.13 598.25,101.71 599.72,102.29 601.19,102.87 602.67,103.45 604.14,104.03 605.61,104.61 607.09,105.19 608.56,105.77 610.03,106.36 611.51,106.94 612.98,107.52 614.46,108.11 615.93,108.69 617.40,109.28 618.88,109.86 620.35,110.45 621.82,111.04 623.30,111.63 624.77,112.21 626.24,112.80 627.72,113.39 629.19,113.98 630.66,114.57 632.14,115.16 633.61,115.75 635.08,116.34 636.56,116.93 638.03,117.52 639.51,118.12 640.98,118.71 642.45,119.30 643.93,119.89 645.40,120.49 646.87,121.08 648.35,121.68 649.82,122.27 651.29,122.87 652.77,123.46 654.24,124.06 655.71,124.65 657.19,125.25 658.66,125.85 660.14,126.44 661.61,127.04 663.08,127.64 664.56,128.24 666.03,128.83 667.50,129.43 668.98,130.03 670.45,130.63 671.92,131.23 673.40,131.83 674.87,132.43 676.34,133.03 677.82,133.63 679.29,134.23 680.77,134.83 682.24,135.43 683.71,136.03 685.19,136.64 686.66,137.24 688.13,137.84 689.61,138.44 691.08,139.05 692.55,139.65 694.03,140.25 695.50,140.86 696.97,141.46 698.45,142.06 699.92,142.67 701.40,143.27 702.87,143.88 704.34,144.48 705.82,145.09 707.29,145.69 708.76,146.30 710.24,146.90 711.71,147.51 713.18,148.11 714.66,148.72 716.13,149.33 717.60,149.93 719.08,150.54 720.55,151.15 722.02,151.75 723.50,152.36 724.97,152.97" fill="none" stroke="#25253a" stroke-width="1.0" stroke-linejoin="round" stroke-dasharray="3 1.2 1 1.2" clip-path="url(#cr)"/>
<circle cx="473.60" cy="57.63" r="2.2" fill="#3c3ce0" stroke="#16168e" stroke-width="1.3"/>
<circle cx="516.94" cy="72.74" r="2.2" fill="#3c3ce0" stroke="#16168e" stroke-width="1.3"/>
<circle cx="560.28" cy="88.85" r="2.2" fill="#3c3ce0" stroke="#16168e" stroke-width="1.3"/>
<circle cx="603.62" cy="105.66" r="2.2" fill="#3c3ce0" stroke="#16168e" stroke-width="1.3"/>
<circle cx="646.96" cy="122.96" r="2.2" fill="#3c3ce0" stroke="#16168e" stroke-width="1.3"/>
<circle cx="690.30" cy="140.57" r="2.2" fill="#3c3ce0" stroke="#16168e" stroke-width="1.3"/>
<rect x="199.5" y="9.1" width="112" height="89.2" fill="#fff" stroke="#959595" stroke-width="1"/>
<line x1="204.00" y1="18.80" x2="226.50" y2="18.80" stroke="#d81c1c" stroke-width="1.8" />
<circle cx="215.25" cy="18.80" r="2.2" fill="#d81010"/>
<text x="229.40" y="23.70" font-size="13" text-anchor="start" font-weight="normal" >Algorithm 1</text>
<line x1="204.00" y1="36.30" x2="226.50" y2="36.30" stroke="#e030ec" stroke-width="1.25" stroke-dasharray="2.8 1.8" />
<path d="M213.65,34.70L216.85,37.90M213.65,37.90L216.85,34.70" stroke="#e030ec" stroke-width="1.5" fill="none"/>
<text x="229.40" y="41.20" font-size="13" text-anchor="start" font-weight="normal" >Algorithm 2</text>
<line x1="204.00" y1="53.30" x2="226.50" y2="53.30" stroke="#1a1ac8" stroke-width="1.8" />
<circle cx="215.25" cy="53.30" r="2.2" fill="#3c3ce0" stroke="#16168e" stroke-width="1.3"/>
<text x="229.40" y="58.20" font-size="13" text-anchor="start" font-weight="normal" >Method in [26]</text>
<line x1="204.00" y1="70.50" x2="226.50" y2="70.50" stroke="#6a6a6a" stroke-width="1.6" />
<text x="229.40" y="75.40" font-size="13" text-anchor="start" font-weight="normal" textLength="24.6" lengthAdjust="spacingAndGlyphs">LFM</text>
<line x1="204.00" y1="88.20" x2="226.50" y2="88.20" stroke="#3a3a48" stroke-width="1" stroke-dasharray="2.6 1.2 1 1.2" />
<text x="229.40" y="93.10" font-size="13" text-anchor="start" font-weight="normal" textLength="73.0" lengthAdjust="spacingAndGlyphs">Upper Bound</text>
<rect x="606.3" y="3.5" width="114.4" height="91.6" fill="#fff" stroke="#959595" stroke-width="1"/>
<line x1="610.60" y1="13.70" x2="633.30" y2="13.70" stroke="#d81c1c" stroke-width="1.8" />
<circle cx="621.95" cy="13.70" r="2.2" fill="#d81010"/>
<text x="636.30" y="19.20" font-size="13.3" text-anchor="start" font-weight="normal" >Algorithm 1</text>
<line x1="610.60" y1="31.30" x2="633.30" y2="31.30" stroke="#e030ec" stroke-width="1.25" stroke-dasharray="2.8 1.8" />
<path d="M620.35,29.70L623.55,32.90M620.35,32.90L623.55,29.70" stroke="#e030ec" stroke-width="1.5" fill="none"/>
<text x="636.30" y="36.80" font-size="13.3" text-anchor="start" font-weight="normal" >Algorithm 2</text>
<line x1="610.60" y1="48.90" x2="633.30" y2="48.90" stroke="#1a1ac8" stroke-width="1.8" />
<circle cx="621.95" cy="48.90" r="2.2" fill="#3c3ce0" stroke="#16168e" stroke-width="1.3"/>
<text x="636.30" y="54.40" font-size="13.3" text-anchor="start" font-weight="normal" textLength="81.6" lengthAdjust="spacingAndGlyphs">Method in [26]</text>
<line x1="610.60" y1="66.50" x2="633.30" y2="66.50" stroke="#6a6a6a" stroke-width="1.6" />
<text x="636.30" y="72.00" font-size="13.3" text-anchor="start" font-weight="normal" textLength="25.2" lengthAdjust="spacingAndGlyphs">LFM</text>
<line x1="610.60" y1="84.10" x2="633.30" y2="84.10" stroke="#3a3a48" stroke-width="1" stroke-dasharray="2.6 1.2 1 1.2" />
<text x="636.30" y="89.60" font-size="13.3" text-anchor="start" font-weight="normal" textLength="74.4" lengthAdjust="spacingAndGlyphs">Upper Bound</text>
<text x="31.30" y="201.50" font-size="12.8" text-anchor="end" font-weight="normal" >0</text>
<text x="31.30" y="164.04" font-size="12.8" text-anchor="end" font-weight="normal" >10</text>
<text x="31.30" y="126.58" font-size="12.8" text-anchor="end" font-weight="normal" >20</text>
<text x="31.30" y="89.12" font-size="12.8" text-anchor="end" font-weight="normal" >30</text>
<text x="31.30" y="51.66" font-size="12.8" text-anchor="end" font-weight="normal" >40</text>
<text x="31.30" y="14.20" font-size="12.8" text-anchor="end" font-weight="normal" >50</text>
<text x="33.30" y="211.20" font-size="12.8" text-anchor="middle" font-weight="normal" >0</text>
<text x="102.70" y="211.20" font-size="12.8" text-anchor="middle" font-weight="normal" >10</text>
<text x="172.40" y="211.20" font-size="12.8" text-anchor="middle" font-weight="normal" >20</text>
<text x="242.20" y="211.20" font-size="12.8" text-anchor="middle" font-weight="normal" >30</text>
<text x="311.50" y="211.20" font-size="12.8" text-anchor="middle" font-weight="normal" >40</text>
<text x="432.50" y="23.10" font-size="13" text-anchor="end" font-weight="normal" >45</text>
<text x="432.50" y="69.10" font-size="13" text-anchor="end" font-weight="normal" >40</text>
<text x="432.50" y="115.10" font-size="13" text-anchor="end" font-weight="normal" >35</text>
<text x="432.50" y="161.10" font-size="13" text-anchor="end" font-weight="normal" >30</text>
<text x="473.60" y="211.40" font-size="13" text-anchor="middle" font-weight="normal" >6</text>
<text x="517.20" y="211.40" font-size="13" text-anchor="middle" font-weight="normal" >8</text>
<text x="560.30" y="211.40" font-size="13" text-anchor="middle" font-weight="normal" >10</text>
<text x="603.60" y="211.40" font-size="13" text-anchor="middle" font-weight="normal" >12</text>
<text x="647.00" y="211.40" font-size="13" text-anchor="middle" font-weight="normal" >14</text>
<text x="690.30" y="211.40" font-size="13" text-anchor="middle" font-weight="normal" >16</text>
<text x="171.30" y="222.70" font-size="12.2" text-anchor="middle" font-weight="normal" >CNR (dB)</text>
<text x="576.70" y="222.90" font-size="12.4" text-anchor="middle" font-weight="normal" >CNR (dB)</text>
<text x="0" y="0" font-size="12" text-anchor="middle" transform="translate(12.0,103.5) rotate(-90)">SCNR (dB)</text>
<text x="0" y="0" font-size="12.2" text-anchor="middle" transform="translate(415.4,99.8) rotate(-90)">SCNR (dB)</text>
<text x="159.5" y="248.5" font-size="19" text-anchor="middle">(<tspan font-weight="bold">a</tspan>)</text>
<text x="562.2" y="248.5" font-size="19" text-anchor="middle">(<tspan font-weight="bold">b</tspan>)</text>
</svg></body></html>
